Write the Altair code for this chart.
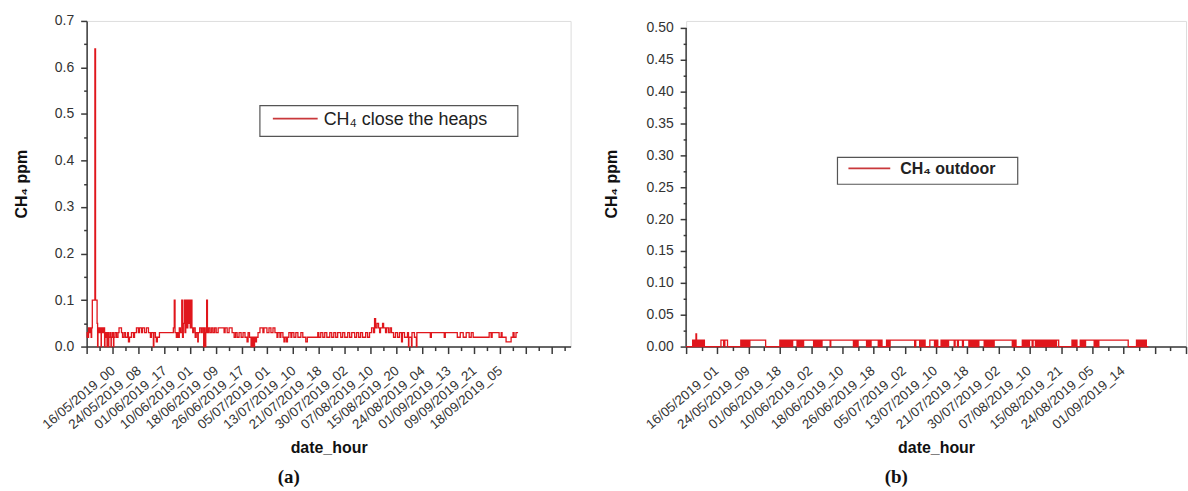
import altair as alt
import pandas as pd

RED = "#e0161c"
LEG_RED = "#c9383b"
AX = "#3a3a3a"
FONT = "Liberation Sans"

# ---------------- data (record index = hourly record number, value = CH4 ppm) -------------
left_rec = [0, 4, 12, 15, 23, 27, 35, 39, 44, 64, 69, 81, 85, 88, 97, 104, 112, 114, 124, 131,
            139, 142, 151, 158, 161, 170, 172, 181, 189, 191, 201, 208, 211, 220, 232, 243, 251, 270, 278, 290,
            301, 317, 324, 332, 347, 363, 371, 386, 401, 409, 425, 432, 448, 463, 479, 494, 502, 517, 521, 533,
            540, 548, 564, 579, 672, 679, 685, 695, 703, 710, 718, 726, 737, 743, 749, 757, 762, 768, 774, 784,
            789, 797, 803, 811, 816, 822, 830, 841, 849, 861, 865, 876, 888, 896, 907, 911, 919, 923, 930, 936,
            946, 957, 969, 980, 992, 1004, 1019, 1065, 1073, 1089, 1104, 1127, 1143, 1154, 1166, 1181, 1197, 1212, 1227, 1243,
            1251, 1262, 1274, 1278, 1285, 1289, 1297, 1301, 1309, 1316, 1328, 1343, 1366, 1374, 1397, 1413, 1428, 1444, 1459, 1475,
            1482, 1498, 1505, 1521, 1529, 1536, 1548, 1556, 1567, 1583, 1590, 1606, 1621, 1637, 1660, 1675, 1698, 1710, 1791, 1799,
            1814, 1830, 1845, 1861, 1884, 1899, 1915, 1930, 1945, 1969, 1984, 2000, 2023, 2038, 2054, 2077, 2092, 2108, 2123, 2138,
            2162, 2177, 2192, 2208, 2223, 2231, 2239, 2250, 2262, 2270, 2277, 2293, 2301, 2316, 2324, 2339, 2351, 2362, 2378, 2393,
            2409, 2424, 2440, 2447, 2463, 2486, 2494, 2497, 2517, 2521, 2540, 2555, 2559, 2663, 2671, 2771, 2779, 2872, 2895, 2918,
            2941, 2964, 2980, 2995, 3119, 3134, 3142, 3196, 3212, 3219, 3250, 3289, 3304, 3312, 3327, 3343]
left_ppm = [.02, .03, .02, .04, .03, .04, .02, .04, .10, .64, .10, .05, 0, .04, .03, .04, 0, .04, .03, .04,
            0, .03, .02, 0, .03, 0, .02, .03, 0, .02, .03, 0, .02, .03, .02, .03, .04, .03, .02, .03,
            .02, .03, .01, .02, .03, .02, .03, .04, .03, .04, .03, .04, .03, .04, .03, .02, .03, 0, .03, .02,
            .01, .02, .03, .03, .04, .10, .03, .02, .03, .02, .04, .03, .10, .02, .05, .10, .03, .10, .04, .10,
            .05, .10, .04, .10, .04, .03, .04, .02, .03, .01, .03, .04, .03, .04, 0, .04, 0, .03, .10, .03,
            .04, .03, .04, .03, .04, .03, .04, .03, .04, .03, .04, .03, .02, .03, .02, .03, .02, .03, .02, .01,
            .03, .02, 0, .02, 0, .02, 0, .02, .01, .02, .03, .04, .03, .04, .03, .04, .03, .04, .03, .02,
            .03, .02, .03, .02, .01, .02, .01, .02, .03, .02, .03, .02, .03, .02, .03, .02, .01, .02, .03, .02,
            .03, .02, .03, .02, .03, .02, .03, .02, .03, .02, .03, .02, .03, .02, .03, .02, .03, .02, .03, .02,
            .03, .02, .03, .04, .03, .06, .04, .05, .04, .03, .04, .05, .04, .03, .04, .03, .04, .03, .02, .03,
            .02, .03, .01, .03, .02, .03, 0, .02, 0, .03, .02, 0, .03, .02, .03, .02, .03, .02, .03, .02,
            .03, .02, .03, .02, .03, .02, .03, .02, .03, .02, .01, .02, .03, .02, .03, .03]

# right panel: intervals (start record, end record) where the reading is above 0 ppm
right_start = [42, 54, 63, 68, 80, 92, 104, 114,
               223, 248,
               350, 362, 374, 386, 398, 408,
               600, 612, 624, 636, 648, 660, 672, 682,
               716, 728, 740, 752,
               822, 834, 846, 858, 870,
               926,
               1077, 1089, 1101,
               1160, 1172, 1184,
               1236, 1248,
               1283, 1295, 1306,
               1470, 1500, 1512, 1524,
               1560, 1596, 1606,
               1632, 1644, 1656, 1668, 1680, 1722, 1743, 1775,
               1816, 1828, 1840, 1852, 1864,
               1874,
               1914, 1926, 1938, 1950, 1962,
               1972,
               2094, 2106,
               2152, 2164, 2176, 2188,
               2198, 2221,
               2240, 2250, 2260, 2270, 2280, 2290, 2299,
               2307, 2315, 2323, 2331, 2339, 2347, 2355, 2363, 2371,
               2470, 2482, 2494,
               2523, 2535, 2547, 2557,
               2618, 2630, 2642,
               2883, 2895, 2907, 2919, 2931, 2941]
right_end = [48, 60, 67, 74, 86, 98, 110, 117,
             240, 265,
             356, 368, 380, 392, 404, 509,
             606, 618, 630, 642, 654, 666, 678, 710,
             722, 734, 746, 816,
             828, 840, 852, 864, 922,
             1071,
             1083, 1095, 1155,
             1166, 1178, 1230,
             1242, 1254,
             1289, 1301, 1463,
             1495, 1506, 1518, 1530,
             1590, 1602, 1611,
             1638, 1650, 1662, 1674, 1716, 1737, 1769, 1810,
             1822, 1834, 1846, 1858, 1870,
             1908,
             1920, 1932, 1944, 1956, 1968,
             2088,
             2100, 2112,
             2158, 2170, 2182, 2194,
             2215, 2236,
             2245, 2255, 2265, 2275, 2285, 2295, 2303,
             2311, 2319, 2327, 2335, 2343, 2351, 2359, 2367, 2385,
             2476, 2488, 2502,
             2529, 2541, 2553, 2612,
             2624, 2636, 2830,
             2889, 2901, 2913, 2925, 2937, 2946]
right_level = [0.01, 0.01, 0.02] + [0.01] * (len(right_start) - 3)
RIGHT_LAST = 2958
RIGHT_AXIS_TOP = 0.5

left_labels = ["16/05/2019_00", "24/05/2019_08", "01/06/2019_17", "10/06/2019_01", "18/06/2019_09",
               "26/06/2019_17", "05/07/2019_01", "13/07/2019_10", "21/07/2019_18", "30/07/2019_02",
               "07/08/2019_10", "15/08/2019_20", "24/08/2019_04", "01/09/2019_13", "09/09/2019_21",
               "18/09/2019_05"]
right_labels = ["16/05/2019_01", "24/05/2019_09", "01/06/2019_18", "10/06/2019_02", "18/06/2019_10",
                "26/06/2019_18", "05/07/2019_02", "13/07/2019_10", "21/07/2019_18", "30/07/2019_02",
                "07/08/2019_10", "15/08/2019_21", "24/08/2019_05", "01/09/2019_14"]

assert len(left_rec) == len(left_ppm)
assert len(right_start) == len(right_end) == len(right_level)

left_df = pd.DataFrame({"rec": left_rec, "ppm": left_ppm})
rx, ry = [0], [0.0]
for s, e, l in zip(right_start, right_end, right_level):
    rx += [s, e]
    ry += [l, 0.0]
rx.append(RIGHT_LAST)
ry.append(0.0)
right_df = pd.DataFrame({"rec": rx, "ppm": ry})
axis_df = pd.DataFrame({"rec": [0], "ppm": [0.0], "ppm2": [RIGHT_AXIS_TOP]})
one = pd.DataFrame({"a": [0]})

# ---------------- layout constants -------------
LW, LH = 486, 327
RW, RH = 502, 327
L_XMAX, R_XMAX = 3750, 3200
R_YTOP = 0.5 * 327 / 320


def x_axis(labels, width, offset, xmax):
    arr = "[" + ",".join("'%s'" % s for s in labels) + "]"
    n = len(labels)
    expr = "(datum.value % 200 === 0 && datum.value / 200 < " + str(n) + ") ? " + arr + "[datum.value / 200] : ''"
    return alt.Axis(
        values=list(range(0, xmax + 1, 100)),
        labelExpr=expr,
        labelAngle=320,
        labelAlign="center",
        labelBaseline="middle",
        labelOffset=offset,
        labelPadding=44,
        labelOverlap=False,
        labelFlush=False,
        labelBound=False,
        labelFont=FONT,
        labelFontSize=13.5,
        labelColor="#333333",
        tickSize={"condition": {"test": "datum.value % 200 === 0", "value": 7}, "value": 4},
        tickColor=AX,
        tickWidth=1.5,
        domainColor=AX,
        domainWidth=1.5,
        grid=False,
        title="date_hour",
        titleFont=FONT,
        titleFontSize=16,
        titleFontWeight="bold",
        titleColor="#111111",
        titleX=width / 2,
        titleY=101,
        titleBaseline="middle",
    )


def y_axis(values, major_test, fmt, title_x, height, domain=True):
    return alt.Axis(
        values=values,
        labelExpr="(" + major_test + ") ? format(datum.value, '" + fmt + "') : ''",
        labelFont=FONT,
        labelFontSize=14,
        labelColor="#333333",
        labelPadding=7,
        labelFlush=False,
        labelOverlap=False,
        tickSize={"condition": {"test": major_test, "value": 6}, "value": 3},
        tickColor=AX,
        tickWidth=1.5,
        domainColor=AX,
        domainWidth=1.5,
        domain=domain,
        grid=False,
        title="CH₄ ppm",
        titleFont=FONT,
        titleFontSize=16,
        titleFontWeight="bold",
        titleColor="#111111",
        titleAngle=270,
        titleX=title_x,
        titleY=height / 2,
        titleBaseline="middle",
    )


# ---------------- left panel -------------
l_vals = [round(i * 0.05, 2) for i in range(15)]
left_line = alt.Chart(left_df).mark_line(
    interpolate="step-after", color=RED, strokeWidth=1.3
).encode(
    x=alt.X("rec:Q", scale=alt.Scale(domain=[0, L_XMAX], nice=False, zero=False),
            axis=x_axis(left_labels, LW, -8, L_XMAX)),
    y=alt.Y("ppm:Q", scale=alt.Scale(domain=[0, 0.7], nice=False),
            axis=y_axis(l_vals, "round(datum.value * 100) % 10 === 0", ".1f", -65, LH)),
)
l_box = alt.Chart(one).mark_rect(fill="white", stroke="#555555", strokeWidth=1.2).encode(
    x=alt.value(174), x2=alt.value(433), y=alt.value(85), y2=alt.value(116))
l_sample = alt.Chart(one).mark_rule(color=LEG_RED, strokeWidth=1.8).encode(
    x=alt.value(187), x2=alt.value(232), y=alt.value(98))
l_text = alt.Chart(one).mark_text(align="left", baseline="middle", font=FONT, fontSize=18,
                                  color="#222222").encode(
    x=alt.value(238), y=alt.value(99), text=alt.value("CH₄ close the heaps"))
l_cap = alt.Chart(one).mark_text(align="center", baseline="middle", font="Liberation Serif",
                                 fontSize=19, fontWeight="bold", color="#111111").encode(
    x=alt.value(203), y=alt.value(458), text=alt.value("(a)"))
left = alt.layer(left_line, l_box, l_sample, l_text, l_cap).properties(width=LW, height=LH)

# ---------------- right panel -------------
r_vals = [round(i * 0.025, 3) for i in range(21)]
R_X = alt.Scale(domain=[0, R_XMAX], nice=False, zero=False)
R_Y = alt.Scale(domain=[0, R_YTOP], nice=False)
r_xaxis = x_axis(right_labels, RW, -4, R_XMAX)
r_yaxis = y_axis(r_vals, "round(datum.value * 1000) % 50 === 0", ".2f", -75, LH, domain=False)

right_line = alt.Chart(right_df).mark_line(
    interpolate="step-after", color=RED, strokeWidth=1.3
).encode(
    x=alt.X("rec:Q", scale=R_X, axis=r_xaxis),
    y=alt.Y("ppm:Q", scale=R_Y, axis=r_yaxis),
)
r_axisline = alt.Chart(axis_df).mark_rule(color=AX, strokeWidth=1.5).encode(
    x=alt.X("rec:Q", scale=R_X, axis=r_xaxis),
    y=alt.Y("ppm:Q", scale=R_Y, axis=r_yaxis),
    y2="ppm2:Q",
)
r_box = alt.Chart(one).mark_rect(fill="white", stroke="#555555", strokeWidth=1.2).encode(
    x=alt.value(152), x2=alt.value(333), y=alt.value(137), y2=alt.value(164))
r_sample = alt.Chart(one).mark_rule(color=LEG_RED, strokeWidth=1.8).encode(
    x=alt.value(163), x2=alt.value(205), y=alt.value(148))
r_text = alt.Chart(one).mark_text(align="left", baseline="middle", font=FONT, fontSize=16,
                                  fontWeight="bold", color="#222222").encode(
    x=alt.value(215), y=alt.value(149), text=alt.value("CH₄ outdoor"))
r_cap = alt.Chart(one).mark_text(align="center", baseline="middle", font="Liberation Serif",
                                 fontSize=19, fontWeight="bold", color="#111111").encode(
    x=alt.value(211), y=alt.value(458), text=alt.value("(b)"))
right = alt.layer(r_axisline, right_line, r_box, r_sample, r_text, r_cap).properties(width=RW, height=RH)

chart = alt.hconcat(left, right, spacing=31).properties(
    padding={"left": 13, "top": 12, "right": 0, "bottom": 0},
    background="white",
).configure_view(stroke="transparent").configure_axis(
    labelOverlap=False, labelFlush=False
).configure(font=FONT)

chart.save("out.html", embed_options={"renderer": "svg", "actions": False})
